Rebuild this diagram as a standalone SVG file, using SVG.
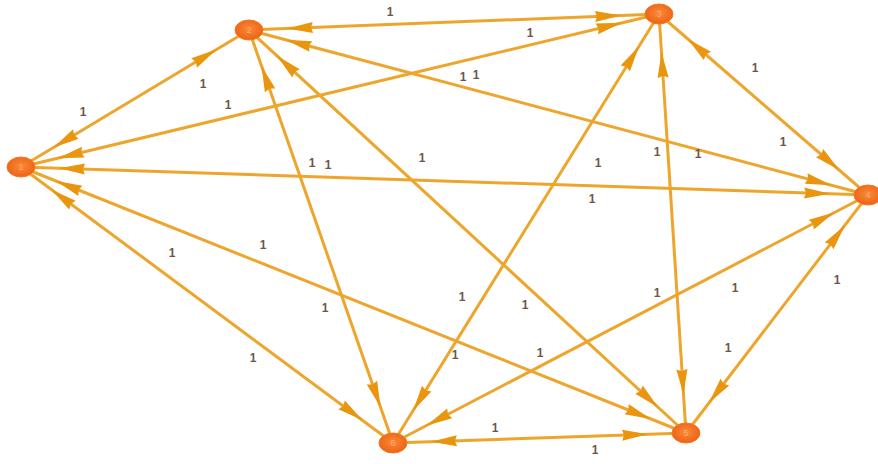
<svg xmlns="http://www.w3.org/2000/svg" width="878" height="464" viewBox="0 0 878 464">
<style>
.e{stroke:#EEA52C;stroke-width:3;fill:none;marker-start:url(#ah);marker-end:url(#ah)}
.w{font-family:"Liberation Sans",Arial,sans-serif;font-size:12px;font-weight:bold;fill:#6E5548;text-anchor:middle}
.n{fill:url(#ng);stroke:#F07A22;stroke-width:1}
.nl{font-family:"Liberation Sans",Arial,sans-serif;font-size:9px;fill:#FFB070;text-anchor:middle}
</style>
<defs>
<marker id="ah" markerUnits="userSpaceOnUse" markerWidth="70" markerHeight="12" refX="64" refY="5.5" orient="auto-start-reverse" overflow="visible">
<path d="M0,0 L26,5.5 L0,11 L2,5.5 Z" fill="#E9950E"/>
</marker>
<radialGradient id="ng" cx="50%" cy="45%" r="60%">
<stop offset="0" stop-color="#F98A3A"/>
<stop offset="1" stop-color="#EE5E10"/>
</radialGradient>
</defs>
<rect width="878" height="464" fill="#FFFFFF"/>
<g id="connectors">
<line class="e" x1="21" y1="167" x2="249" y2="30"/>
<line class="e" x1="21" y1="167" x2="659" y2="14"/>
<line class="e" x1="21" y1="167" x2="868" y2="195"/>
<line class="e" x1="21" y1="167" x2="686" y2="433"/>
<line class="e" x1="21" y1="167" x2="393" y2="443"/>
<line class="e" x1="249" y1="30" x2="659" y2="14"/>
<line class="e" x1="249" y1="30" x2="868" y2="195"/>
<line class="e" x1="249" y1="30" x2="686" y2="433"/>
<line class="e" x1="249" y1="30" x2="393" y2="443"/>
<line class="e" x1="659" y1="14" x2="868" y2="195"/>
<line class="e" x1="659" y1="14" x2="686" y2="433"/>
<line class="e" x1="659" y1="14" x2="393" y2="443"/>
<line class="e" x1="868" y1="195" x2="686" y2="433"/>
<line class="e" x1="868" y1="195" x2="393" y2="443"/>
<line class="e" x1="686" y1="433" x2="393" y2="443"/>
</g>
<g id="weights">
<text class="w" x="390" y="16">1</text>
<text class="w" x="530" y="37">1</text>
<text class="w" x="463" y="81">1</text>
<text class="w" x="476" y="79">1</text>
<text class="w" x="83" y="116">1</text>
<text class="w" x="203" y="88">1</text>
<text class="w" x="228" y="109">1</text>
<text class="w" x="312" y="167">1</text>
<text class="w" x="328" y="169">1</text>
<text class="w" x="422" y="162">1</text>
<text class="w" x="172" y="257">1</text>
<text class="w" x="263" y="249">1</text>
<text class="w" x="755" y="72">1</text>
<text class="w" x="783" y="146">1</text>
<text class="w" x="657" y="156">1</text>
<text class="w" x="698" y="158">1</text>
<text class="w" x="598" y="167">1</text>
<text class="w" x="592" y="203">1</text>
<text class="w" x="462" y="301">1</text>
<text class="w" x="525" y="309">1</text>
<text class="w" x="455" y="359">1</text>
<text class="w" x="540" y="357">1</text>
<text class="w" x="657" y="297">1</text>
<text class="w" x="735" y="292">1</text>
<text class="w" x="837" y="284">1</text>
<text class="w" x="728" y="352">1</text>
<text class="w" x="495" y="432">1</text>
<text class="w" x="595" y="454">1</text>
<text class="w" x="325" y="312">1</text>
<text class="w" x="253" y="362">1</text>
</g>
<g id="node1"><ellipse class="n" cx="21" cy="167" rx="14" ry="10"/><text class="nl" x="21" y="170">1</text></g>
<g id="node2"><ellipse class="n" cx="249" cy="30" rx="14" ry="10"/><text class="nl" x="249" y="33">2</text></g>
<g id="node3"><ellipse class="n" cx="659" cy="14" rx="14" ry="10"/><text class="nl" x="659" y="17">3</text></g>
<g id="node4"><ellipse class="n" cx="868" cy="195" rx="14" ry="10"/><text class="nl" x="868" y="198">4</text></g>
<g id="node5"><ellipse class="n" cx="686" cy="433" rx="14" ry="10"/><text class="nl" x="686" y="436">5</text></g>
<g id="node6"><ellipse class="n" cx="393" cy="443" rx="14" ry="10"/><text class="nl" x="393" y="446">6</text></g>
</svg>
